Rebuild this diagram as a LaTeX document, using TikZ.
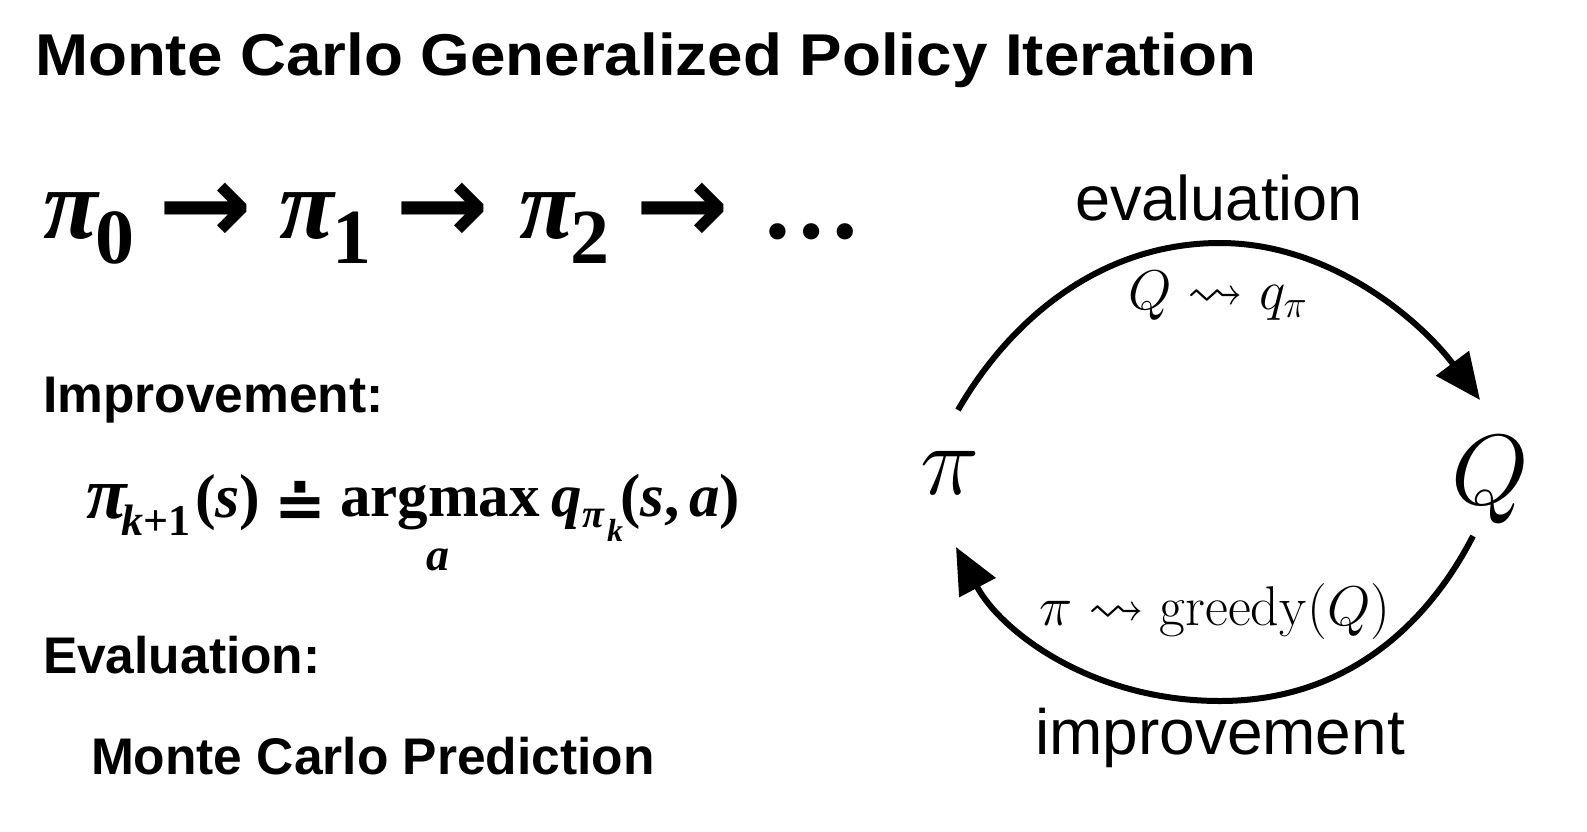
\RequirePackage{fix-cm}
\documentclass[tikz,border=0pt]{standalone}
\usepackage{amsmath,amssymb}
\usepackage[no-math]{fontspec}
\usetikzlibrary{arrows.meta}
\DeclareFontFamily{U}{msa}{}
\DeclareFontShape{U}{msa}{m}{n}{<-6>msam5<6-8>msam7<8->msam10}{}
\setmainfont{Liberation Sans}
\newfontfamily\tms{Liberation Serif}
\newfontfamily\ttlfont[FakeStretch=1.08]{Liberation Sans}
\newfontfamily\helv{Liberation Sans}
\newfontfamily\arrfont{DejaVu Sans}
\newcommand\fsz[1]{\fontsize{#1}{#1}\selectfont}
\newcommand\bi{\tms\bfseries\itshape}
\newcommand\bu{\tms\bfseries\upshape}
\tikzset{
  every node/.style={inner sep=0pt, outer sep=0pt},
  lbl/.style={anchor=base west},
  seqarrow/.style={anchor=west, font=\arrfont\bfseries\fsz{112}},
  cyc/.style={line width=6pt, -{Triangle[length=46pt,width=40pt]}},
}
\begin{document}
\begin{tikzpicture}[x=1pt,y=-1pt]
\path[use as bounding box, fill=white] (0,0) rectangle (1587,832);

% title
\node[lbl] (title) at (35,76) {\ttlfont\bfseries\fsz{59}Monte Carlo Generalized Policy Iteration};

% pi sequence
\node[lbl] (p0) at (43,238) {\bi\fsz{100}π};
\node[lbl] (s0) at (95,263) {\bu\fsz{78}0};
\node[seqarrow] (a1) at (158,213) {→};
\node[lbl] (p1) at (279,238) {\bi\fsz{100}π};
\node[lbl] (s1) at (332,263) {\bu\fsz{78}1};
\node[seqarrow] (a2) at (395,213) {→};
\node[lbl] (p2) at (519,238) {\bi\fsz{100}π};
\node[lbl] (s2) at (570,263) {\bu\fsz{78}2};
\node[seqarrow] (a3) at (635,213) {→};
\node[lbl] (dots) at (761,238) {\bu\fsz{100}…};

% improvement
\node[lbl] (impr) at (43,412) {\helv\bfseries\fsz{51.5}Improvement:};
\node[lbl] (fpi) at (86,518) {\bi\fsz{74}π};
\node[lbl] (fk) at (121,535) {\fsz{44}{\bi k}{\bu +1}};
\node[lbl] (fs) at (195,517) {\fsz{62}{\bu (}{\bi s}{\bu )}};
\node[anchor=base] (eq) at (300,527) {\arrfont\bfseries\fsz{62}≐};
\node[lbl] (argm) at (340,516) {\bu\fsz{61}argmax};
\node[lbl] (suba) at (426,570) {\bi\fsz{46}a};
\node[lbl] (fq) at (551,516) {\bi\fsz{61}q};
\node[lbl] (fqp) at (582,527) {\bi\fsz{40}π};
\node[lbl] (fqk) at (607,541) {\bi\fsz{32}k};
\node[lbl] (fsa) at (620,516) {\fsz{61}{\bu (}{\bi s}{\bu ,\,}{\bi a}{\bu )}};

% evaluation
\node[lbl] (evl) at (43,673) {\helv\bfseries\fsz{51.5}Evaluation:};
\node[lbl] (mcp) at (91,774) {\helv\bfseries\fsz{51.5}Monte Carlo Prediction};

% cycle
\node[anchor=base] (evalR) at (1219,220) {\helv\fsz{63}evaluation};
\node[anchor=base] (qlab) at (1218,309) {\fsz{56}$Q \rightsquigarrow q_\pi$};
\node[anchor=base] (pi) at (950,494) {\fsz{100}$\pi$};
\node[anchor=base] (Q) at (1490,504) {\fsz{100}$Q$};
\node[anchor=base] (glab) at (1215,625) {\fsz{56}$\pi \rightsquigarrow \mathrm{greedy}(Q)$};
\node[anchor=base] (imprR) at (1220,754) {\helv\fsz{64}improvement};

\coordinate (t0) at (958,410);
\coordinate (t1) at (1480,400);
\coordinate (b0) at (1473,536);
\coordinate (b1) at (956,547);
\draw[cyc] (t0) .. controls (1010,320) and (1100,243) .. (1220,243)
               .. controls (1330,243) and (1420,320) .. (t1);
\draw[cyc] (b0) .. controls (1430,620) and (1350,701) .. (1220,701)
               .. controls (1090,701) and (1000,630) .. (b1);
\end{tikzpicture}
\end{document}
